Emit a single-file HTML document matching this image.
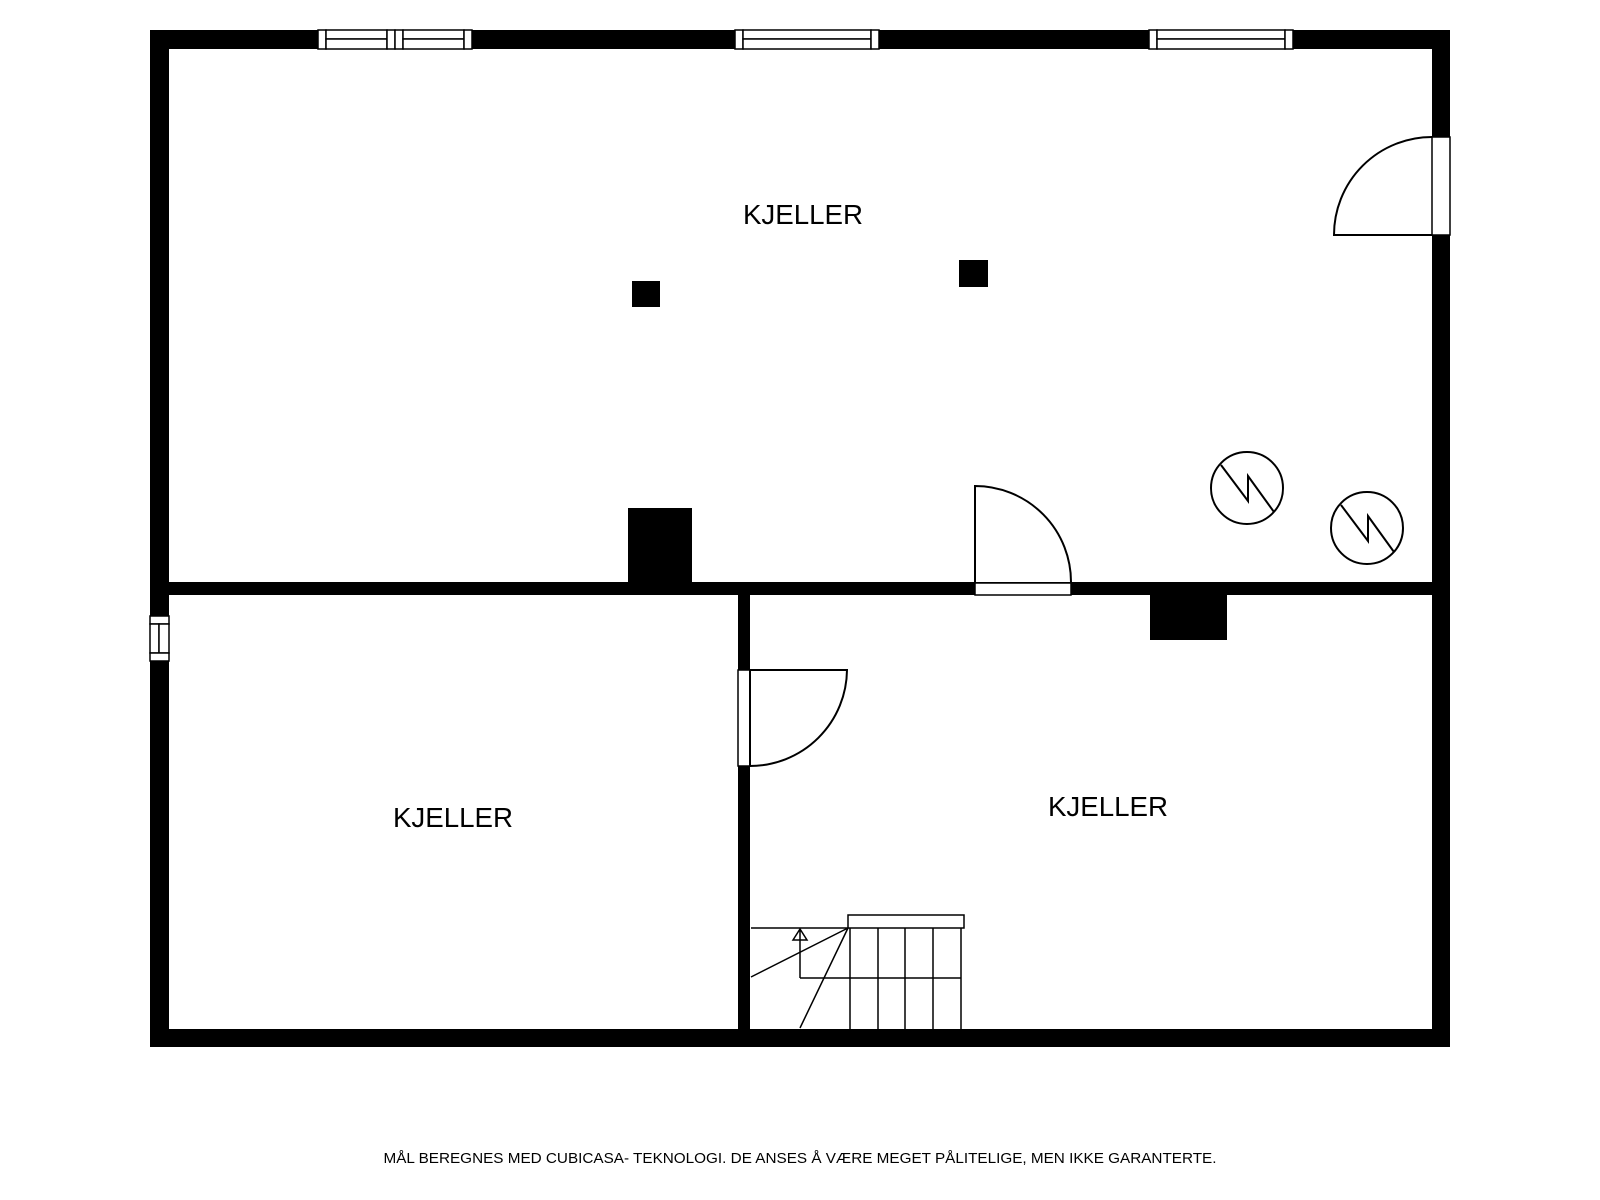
<!DOCTYPE html>
<html><head><meta charset="utf-8"><style>html,body{margin:0;padding:0;background:#fff;}svg{display:block}</style></head>
<body>
<svg width="1600" height="1200" viewBox="0 0 1600 1200" xmlns="http://www.w3.org/2000/svg">
<rect width="1600" height="1200" fill="#fff"/>
<g fill="#000">
<rect x="150" y="30" width="1300" height="19"/>
<rect x="150" y="1029" width="1300" height="18"/>
<rect x="150" y="30" width="19" height="1017"/>
<rect x="1432" y="30" width="18" height="1017"/>
<rect x="150" y="582" width="1300" height="13"/>
<rect x="738" y="582" width="12" height="465"/>
<rect x="632" y="281" width="28" height="26"/>
<rect x="959" y="260" width="29" height="27"/>
<rect x="628" y="508" width="64" height="75"/>
<rect x="1150" y="595" width="77" height="45"/>
</g>
<g fill="#fff" stroke="#000" stroke-width="1.5">
<rect x="318" y="30" width="8" height="19"/><rect x="326" y="30" width="61" height="9"/><rect x="326" y="39" width="61" height="10"/>
<rect x="387" y="30" width="8" height="19"/><rect x="395" y="30" width="8" height="19"/>
<rect x="403" y="30" width="61" height="9"/><rect x="403" y="39" width="61" height="10"/><rect x="464" y="30" width="8" height="19"/>
<rect x="735" y="30" width="8" height="19"/><rect x="743" y="30" width="128" height="9"/><rect x="743" y="39" width="128" height="10"/><rect x="871" y="30" width="8" height="19"/>
<rect x="1149" y="30" width="8" height="19"/><rect x="1157" y="30" width="128" height="9"/><rect x="1157" y="39" width="128" height="10"/><rect x="1285" y="30" width="8" height="19"/>
<rect x="150" y="616" width="19" height="8"/><rect x="150" y="624" width="9" height="29"/><rect x="159" y="624" width="10" height="29"/><rect x="150" y="653" width="19" height="8"/>
<rect x="1432" y="137" width="18" height="98"/>
<rect x="975" y="583" width="96" height="12"/>
<rect x="738" y="670" width="12" height="96"/>
</g>
<g fill="none" stroke="#000" stroke-width="2">
<path d="M1432 235 H1334 A98 98 0 0 1 1432 137"/>
<path d="M975 583 V486 A96 96 0 0 1 1071 583"/>
<path d="M750 766 V670 H847 A97 97 0 0 1 750 766"/>
<circle cx="1247" cy="488" r="36"/>
<path d="M1221 465 L1248 501 L1248 476 L1274 512"/>
<circle cx="1367" cy="528" r="36"/>
<path d="M1341 505 L1368 541 L1368 516 L1394 552"/>
</g>
<g fill="none" stroke="#000" stroke-width="1.5">
<rect x="848" y="915" width="116" height="13" fill="#fff"/>
<path d="M850 928 V1029 M878 928 V1029 M905 928 V1029 M933 928 V1029 M961 928 V1029"/>
<path d="M800 978 H961 M751 928 H848"/>
<path d="M800 978 V930 M793 940 L800 929 L807 940 Z"/>
<path d="M848 928 L751 977 M848 928 L800 1028"/>
</g>
<g font-family="Liberation Sans, sans-serif" fill="#000" text-anchor="middle">
<text x="803" y="224" font-size="27.7">KJELLER</text>
<text x="453" y="827" font-size="27.7">KJELLER</text>
<text x="1108" y="816" font-size="27.7">KJELLER</text>
<text x="800" y="1163" font-size="15" textLength="833" lengthAdjust="spacingAndGlyphs">MÅL BEREGNES MED CUBICASA- TEKNOLOGI. DE ANSES Å VÆRE MEGET PÅLITELIGE, MEN IKKE GARANTERTE.</text>
</g>
</svg>
</body></html>
